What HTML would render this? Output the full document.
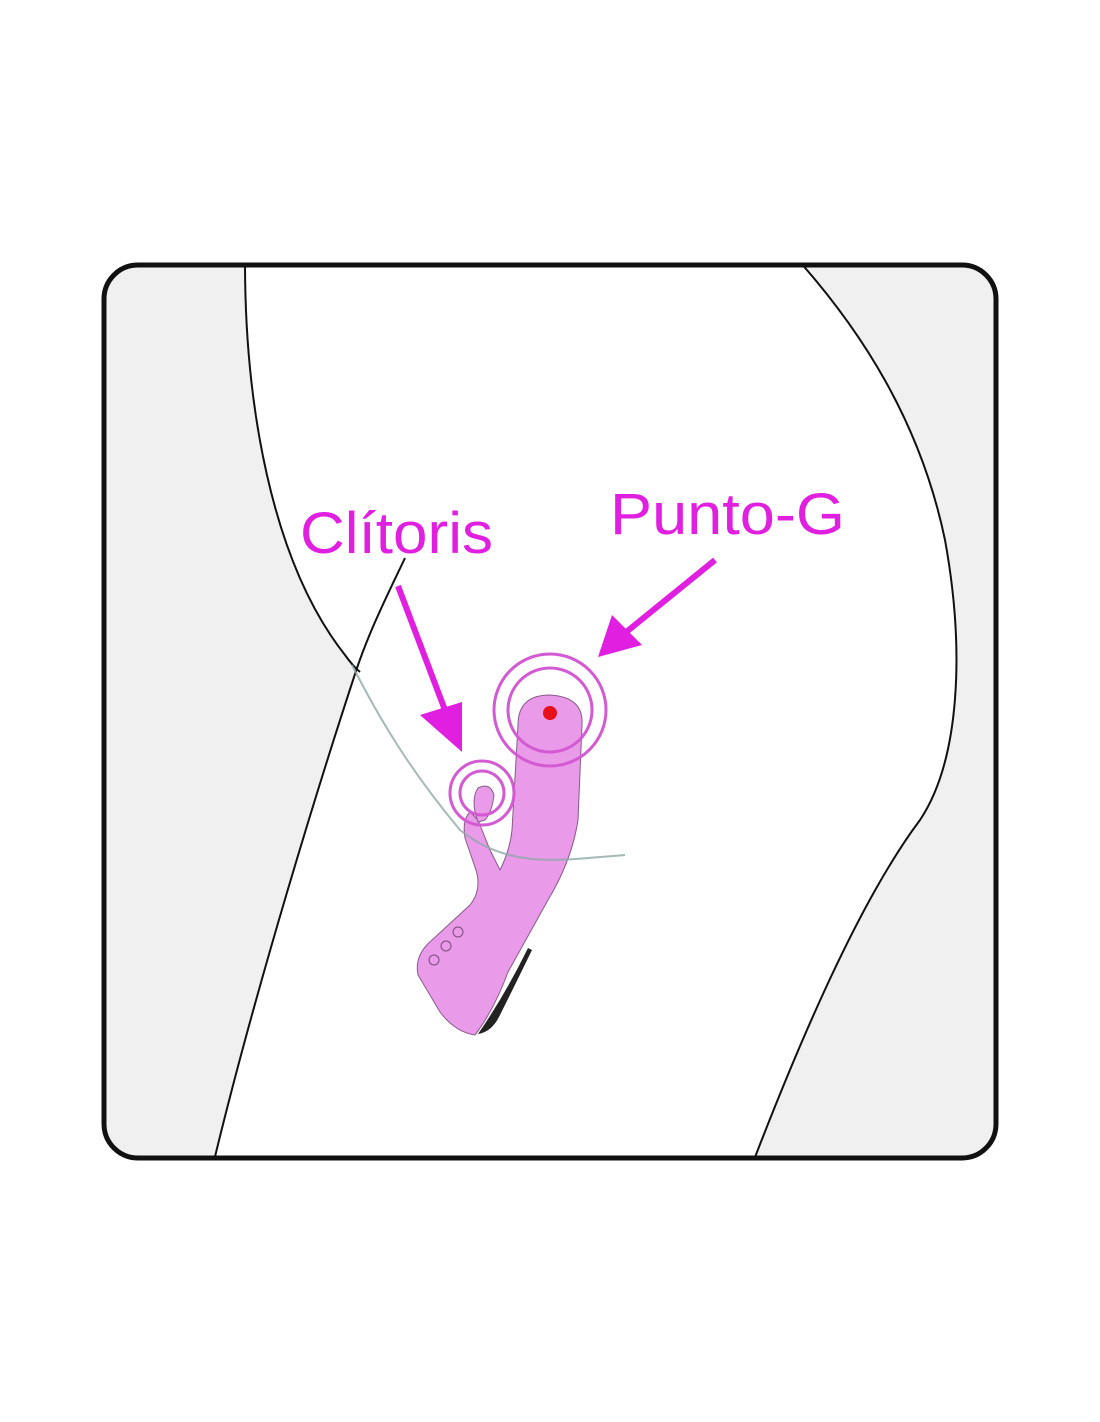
<!DOCTYPE html>
<html><head><meta charset="utf-8"><style>
html,body{margin:0;padding:0;background:#fff;}
svg{display:block;}
text{font-family:"Liberation Sans",sans-serif;fill:#e01fe0;}
</style></head><body>
<svg width="1100" height="1422" viewBox="0 0 1100 1422" xmlns="http://www.w3.org/2000/svg">
<defs><clipPath id="c"><rect x="104" y="265" width="892" height="893" rx="34"/></clipPath></defs>
<g clip-path="url(#c)">
<rect x="100" y="260" width="900" height="900" fill="#f0f0f0"/>
<path d="M245,262 C245,400 270,560 345,655 L357,668 C320,780 255,990 213,1165 L752,1165 C800,1040 860,900 920,820 C960,760 965,650 945,540 C920,420 860,330 800,262 Z" fill="#fff"/>
<path d="M245,262 C245,400 270,560 345,655 C350,662 355,668 360,672" fill="none" stroke="#111" stroke-width="2"/>
<path d="M405,558 C385,600 370,630 357,668 C320,780 255,990 213,1165" fill="none" stroke="#111" stroke-width="2"/>
<path d="M800,262 C860,330 920,420 945,540 C965,650 960,760 920,820 C860,900 800,1040 752,1165" fill="none" stroke="#111" stroke-width="2"/>
</g>
<rect x="104" y="265" width="892" height="893" rx="34" fill="none" stroke="#111" stroke-width="5"/>
<path d="M518,725 Q518,695 550,695 Q584,697 582,725 L578,820 Q572,860 548,900 L508,972 Q494,1010 475,1035 Q455,1032 440,1012 L418,975 Q414,955 432,940 L470,905 Q482,890 476,870 L465,838 Q462,820 470,812 L478,820 L490,850 L500,870 Q510,850 512,830 Z" fill="#e99ae9" stroke="#8a5a8a" stroke-width="1"/>
<path d="M478,822 Q470,800 478,788 Q490,782 494,795 Q492,812 485,820 Z" fill="#e99ae9" stroke="#8a5a8a" stroke-width="1"/>
<path d="M528,948 Q505,995 478,1034 Q492,1032 500,1015 Q515,985 532,950 Z" fill="#222"/>
<circle cx="434" cy="960" r="5" fill="none" stroke="#7a4a7a"/>
<circle cx="446" cy="946" r="5" fill="none" stroke="#7a4a7a"/>
<circle cx="458" cy="932" r="5" fill="none" stroke="#7a4a7a"/>
<circle cx="550" cy="713" r="7" fill="#e8101a"/>
<circle cx="550" cy="710" r="42" fill="none" stroke="#d45ad4" stroke-width="3"/>
<circle cx="550" cy="710" r="56" fill="none" stroke="#d45ad4" stroke-width="3"/>
<circle cx="482" cy="793" r="22" fill="none" stroke="#d45ad4" stroke-width="3"/>
<circle cx="482" cy="793" r="32" fill="none" stroke="#d45ad4" stroke-width="3"/>
<path d="M352,665 C380,720 410,770 460,830 C510,870 560,860 625,855" fill="none" stroke="#8fa8a8" stroke-width="2" opacity="0.8"/>
<line x1="398" y1="586" x2="448" y2="718" stroke="#e01fe0" stroke-width="6"/>
<polygon points="420,715 462,702 462,752" fill="#e01fe0"/>
<line x1="715" y1="560" x2="625" y2="633" stroke="#e01fe0" stroke-width="6"/>
<polygon points="612,615 642,645 598,657" fill="#e01fe0"/>
<text x="300" y="553" font-size="58" textLength="193" lengthAdjust="spacingAndGlyphs">Clítoris</text>
<text x="610" y="534" font-size="58" textLength="235" lengthAdjust="spacingAndGlyphs">Punto-G</text>
</svg>
</body></html>
